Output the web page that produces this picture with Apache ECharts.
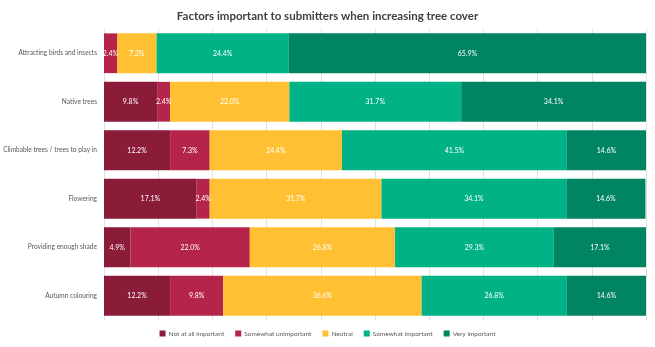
<!DOCTYPE html>
<html><head><meta charset="utf-8">
<script src="https://cdn.jsdelivr.net/npm/echarts@6/dist/echarts.min.js"></script>
<style>html,body{margin:0;padding:0;background:#fff}#c{width:655px;height:347px}</style>
</head><body><div id="c"></div>
<script>
const categories = ["Attracting birds and insects","Native trees","Climbable trees / trees to play in","Flowering","Providing enough shade","Autumn colouring"];
const seriesNames = ["Not at all important","Somewhat unimportant","Neutral","Somewhat important","Very important"];
const notAtAll = [0, 9.8, 12.2, 17.1, 4.9, 12.2];
const somewhatUnimportant = [2.4, 2.4, 7.3, 2.4, 22.0, 9.8];
const neutral = [7.3, 22.0, 24.4, 31.7, 26.8, 36.6];
const somewhatImportant = [24.4, 31.7, 41.5, 34.1, 29.3, 26.8];
const veryImportant = [65.9, 34.1, 14.6, 14.6, 17.1, 14.6];
const colors = ["#8a1b39","#b5254b","#ffc133","#00b285","#008462"];
const values = [notAtAll, somewhatUnimportant, neutral, somewhatImportant, veryImportant];
const font = "Lato, sans-serif";
const chart = echarts.init(document.getElementById('c'));
chart.setOption({
  animation:false,
  title:{text:"Factors important to submitters when increasing tree cover",left:'center',top:5,
    textStyle:{fontFamily:font,fontSize:11.5,fontWeight:'bold',color:'#404040'}},
  legend:{bottom:5,left:'center',itemWidth:6,itemHeight:6,itemGap:11,icon:'rect',
    textStyle:{fontFamily:font,fontSize:6.5,color:'#595959',padding:[0,0,0,-2]},data:seriesNames},
  grid:{left:104,right:9,top:29,bottom:27,containLabel:false,outerBoundsMode:'none'},
  xAxis:{type:'value',min:0,max:100,interval:10,axisLabel:{show:false},axisLine:{show:false},axisTick:{show:false},
    splitLine:{lineStyle:{color:'#e0e0e0',width:1}}},
  yAxis:{type:'category',inverse:true,data:categories,axisLine:{show:false},axisTick:{show:false},
    axisLabel:{fontFamily:font,fontSize:6.6,color:'#595959',margin:7}},
  series: seriesNames.map((n,i)=>({
    name:n,type:'bar',stack:'total',barCategoryGap:'18%',
    itemStyle:{color:colors[i]},
    data:values[i].map(v=>v===0?null:v),
    label:{show:true,position:'inside',color:'#fff',fontFamily:font,fontSize:7,
      formatter:p=>p.value.toFixed(1)+'%'}
  }))
});
</script></body></html>
